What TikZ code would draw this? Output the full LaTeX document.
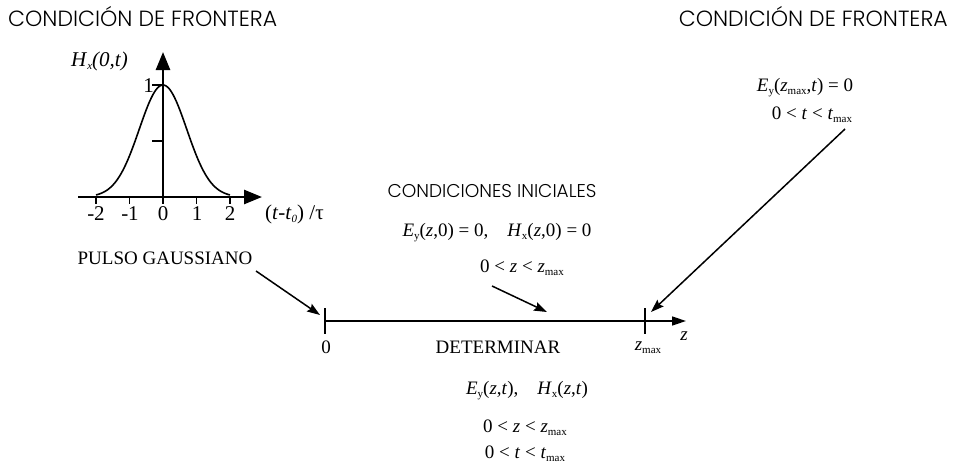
\documentclass[tikz,border=0pt]{standalone}
\usepackage{fontspec}
\setmainfont{Liberation Serif}
\IfFontExistsTF{Poppins Light}{\newfontfamily\titlefont{Poppins Light}}{\newfontfamily\titlefont{Poppins}}
\usetikzlibrary{arrows.meta}
\newcommand\sbs[1]{\raisebox{-0.35ex}{\fontsize{11}{11}\selectfont #1}}
\newcommand\iv[1]{\textit{#1}}
\begin{document}
\begin{tikzpicture}[x=1pt,y=-1pt,
  title/.style={font=\titlefont\fontsize{22}{22}\selectfont, inner sep=0pt},
  subtitle/.style={font=\titlefont\fontsize{18.5}{18.5}\selectfont, inner sep=0pt},
  lbl/.style={font=\fontsize{19}{19}\selectfont, inner sep=0pt},
  glbl/.style={font=\fontsize{21}{21}\selectfont, inner sep=0pt},
  axis/.style={line width=2.6pt, -{Triangle[length=18pt,width=14pt]}},
  thinaxis/.style={line width=1.5pt, -{Triangle[length=14pt,width=9pt]}},
  conn/.style={line width=1.5pt, -{Stealth[length=13pt,width=9pt,inset=2pt]}},
  tick/.style={line width=1.5pt}]
\useasboundingbox (0,0) rectangle (955,463);
% titles
\node[title, anchor=west] (tl) at (8,17) {CONDICIÓN DE FRONTERA};
\node[title, anchor=east] (tr) at (948,17) {CONDICIÓN DE FRONTERA};
% gaussian graph
\coordinate (O) at (163,197);
\coordinate (xs) at (78,197);
\coordinate (xe) at (262,197);
\coordinate (ye) at (163,52);
\draw[axis] (xs) -- (xe);
\draw[axis] (O) -- (ye);
\foreach \k in {-2,-1,0,1,2} {
  \draw[tick] ({163+33.5*\k},197) -- ({163+33.5*\k},204);
}
\draw[tick] (152,85) -- (163,85);
\draw[tick] (152,141) -- (163,141);
\draw[line width=1.6pt] plot[domain=-2:2, samples=81, smooth] ({163+33.5*\x},{197-112*exp(-1.0*(\x)*(\x))});
\node[glbl, anchor=east] (hx) at (128,61) {\iv{H}\sbs{\iv{x}}\iv{(0,t)}};
\node[glbl, anchor=east] (one) at (154,86) {1};
\node[glbl] (m2) at (96,214) {-2};
\node[glbl] (m1) at (130,214) {-1};
\node[glbl] (z0) at (163,214) {0};
\node[glbl] (p1) at (197,214) {1};
\node[glbl] (p2) at (230,214) {2};
\node[glbl, anchor=west] (tt) at (265,214) {(\iv{t}-\iv{t}\sbs{\iv{0}}) /τ};
\node[lbl] (pulso) at (165,258) {PULSO GAUSSIANO};
% main axis
\coordinate (a0) at (325,321);
\coordinate (am) at (645,321);
\coordinate (aend) at (686,321);
\draw[thinaxis] (a0) -- (aend);
\draw[tick] (325,308) -- (325,334);
\draw[tick] (645,308) -- (645,334);
\node[lbl] (l0) at (326,347) {0};
\node[lbl] (lzm) at (648,348) {\iv{z}\sbs{max}};
\node[lbl] (lz) at (684,336) {\iv{z}};
\node[lbl] (det) at (498,347) {DETERMINAR};
\node[lbl] (f1) at (527,391) {\iv{E}\sbs{y}(\iv{z},\iv{t}),\quad \iv{H}\sbs{x}(\iv{z},\iv{t})};
\node[lbl] (f2) at (525,428) {0 < \iv{z} < \iv{z}\sbs{max}};
\node[lbl] (f3) at (525,454) {0 < \iv{t} < \iv{t}\sbs{max}};
% initial conditions
\node[subtitle] (ci) at (492,191) {CONDICIONES INICIALES};
\node[lbl] (ic1) at (497,233) {\iv{E}\sbs{y}(\iv{z},0) = 0,\quad \iv{H}\sbs{x}(\iv{z},0) = 0};
\node[lbl] (ic2) at (522,268) {0 < \iv{z} < \iv{z}\sbs{max}};
% right boundary
\node[lbl] (r1) at (805,88) {\iv{E}\sbs{y}(\iv{z}\sbs{max},\iv{t}) = 0};
\node[lbl] (r2) at (812,115) {0 < \iv{t} < \iv{t}\sbs{max}};
% connectors
\coordinate (tp) at (320,315);
\coordinate (tm) at (547,312);
\coordinate (tr2) at (651,312);
\coordinate (sp) at (256,271);
\coordinate (sm) at (492,286);
\coordinate (sr) at (845,129);
\draw[conn] (sp) -- (tp);
\draw[conn] (sm) -- (tm);
\draw[conn] (sr) -- (tr2);
\end{tikzpicture}
\end{document}
